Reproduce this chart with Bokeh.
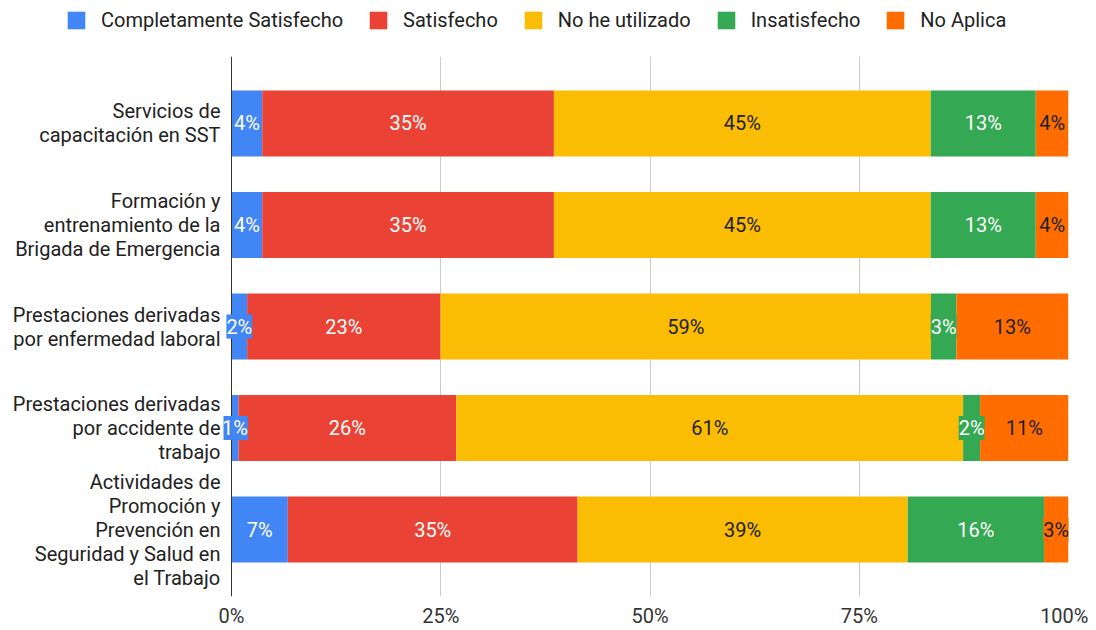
from bokeh.plotting import figure
from bokeh.layouts import column
from bokeh.models import ColumnDataSource, Range1d, FixedTicker, Legend, LegendItem, LabelSet, Span
from bokeh.core.properties import value
from bokeh.embed import file_html
from bokeh.resources import INLINE

categories = [
    "Servicios de\ncapacitación en SST",
    "Formación y\nentrenamiento de la\nBrigada de Emergencia",
    "Prestaciones derivadas\npor enfermedad laboral",
    "Prestaciones derivadas\npor accidente de\ntrabajo",
    "Actividades de\nPromoción y\nPrevención en\nSeguridad y Salud en\nel Trabajo",
]
series = ["Completamente Satisfecho", "Satisfecho", "No he utilizado", "Insatisfecho", "No Aplica"]
completamente = [3.67, 3.67, 1.87, 0.84, 6.73]
satisfecho = [34.85, 34.85, 23.10, 26.02, 34.62]
no_utilizado = [45.02, 45.02, 58.60, 60.55, 39.44]
insatisfecho = [12.55, 12.55, 3.03, 2.03, 16.29]
no_aplica = [3.91, 3.91, 13.39, 10.56, 2.92]
x_ticks = [0, 25, 50, 75, 100]
x_tick_labels = ["0%", "25%", "50%", "75%", "100%"]

colors = ["#4285F4", "#EA4335", "#FBBC04", "#34A853", "#FF6D01"]
label_colors = ["#ffffff", "#ffffff", "#222222", "#ffffff", "#222222"]
FONT = "Roboto"

keys = ["s0", "s1", "s2", "s3", "s4"]
values_list = [completamente, satisfecho, no_utilizado, insatisfecho, no_aplica]
ys = list(range(len(categories)))
data = {"y": ys}
for k, v in zip(keys, values_list):
    data[k] = v
src = ColumnDataSource(data)

# ---- legend strip ----
lg = figure(width=1088, height=44, output_backend="svg", toolbar_location=None,
            x_range=Range1d(0, 1), y_range=Range1d(0, 1),
            min_border_left=0, min_border_right=0, min_border_top=0, min_border_bottom=0)
lg.frame_align = False
lg.outline_line_color = None
lg.axis.visible = False
lg.grid.visible = False
dummy = [lg.hbar(y=[-10], left=[0], right=[0], height=0.1, color=c, line_color=None) for c in colors]
items = [LegendItem(label=s, renderers=[r]) for s, r in zip(series, dummy)]
legend = Legend(items=items, orientation="horizontal", location=(65, 12),
                glyph_width=22, glyph_height=22, label_standoff=14, spacing=24,
                padding=0, margin=0, border_line_color=None, background_fill_alpha=0,
                label_text_font=FONT, label_text_font_size="20px",
                label_text_color="#222222", label_height=22)
lg.add_layout(legend, "center")

# ---- main chart ----
p = figure(width=1088, height=586, output_backend="svg", toolbar_location=None,
           x_range=Range1d(-0.956, 100), y_range=Range1d(4.66, -0.66),
           min_border_left=223, min_border_right=20, min_border_top=12, min_border_bottom=0)
p.outline_line_color = None

p.xgrid.ticker = FixedTicker(ticks=x_ticks[1:])
p.xgrid.grid_line_color = "#cccccc"
p.ygrid.grid_line_color = None

renderers = p.hbar_stack(keys, y="y", height=0.65, color=colors, source=src, line_color=None)
p.add_layout(Span(location=0, dimension="height", line_color="#333333", line_width=1))

lx, ly, lt, lc, lb = [], [], [], [], []
for i in ys:
    cum = 0.0
    for j, vals in enumerate(values_list):
        v = vals[i]
        lx.append(cum + v / 2)
        ly.append(i)
        lt.append(f"{round(v)}%")
        lc.append(label_colors[j])
        lb.append(colors[j])
        cum += v
lsrc = ColumnDataSource(dict(x=lx, y=ly, text=lt, color=lc, bg=lb))
labels = LabelSet(x="x", y="y", text="text", source=lsrc, text_color="color",
                  text_align="center", text_baseline="middle",
                  text_font=value(FONT), text_font_size=value("20px"),
                  background_fill_color="bg")
p.add_layout(labels)

p.xaxis.ticker = FixedTicker(ticks=x_ticks)
p.xaxis.major_label_overrides = {t: l for t, l in zip(x_ticks, x_tick_labels)}
p.xaxis.axis_line_color = None
p.xaxis.major_tick_line_color = None
p.xaxis.minor_tick_line_color = None
p.xaxis.major_tick_out = 0
p.xaxis.major_tick_in = 0
p.xaxis.minor_tick_out = 0
p.xaxis.major_label_text_font = FONT
p.xaxis.major_label_text_font_size = "20px"
p.xaxis.major_label_text_color = "#333333"
p.xaxis.major_label_standoff = 7

p.yaxis.ticker = FixedTicker(ticks=ys)
p.yaxis.major_label_overrides = {i: c for i, c in zip(ys, categories)}
p.yaxis.axis_line_color = None
p.yaxis.major_tick_line_color = None
p.yaxis.minor_tick_line_color = None
p.yaxis.major_tick_out = 0
p.yaxis.major_tick_in = 0
p.yaxis.minor_tick_out = 0
p.yaxis.major_label_text_font = FONT
p.yaxis.major_label_text_font_size = "20px"
p.yaxis.major_label_text_color = "#222222"
p.yaxis.major_label_text_line_height = 1.0
p.yaxis.major_label_standoff = 3

layout = column(lg, p, spacing=0)
open("out.html", "w").write(file_html(layout, INLINE))
